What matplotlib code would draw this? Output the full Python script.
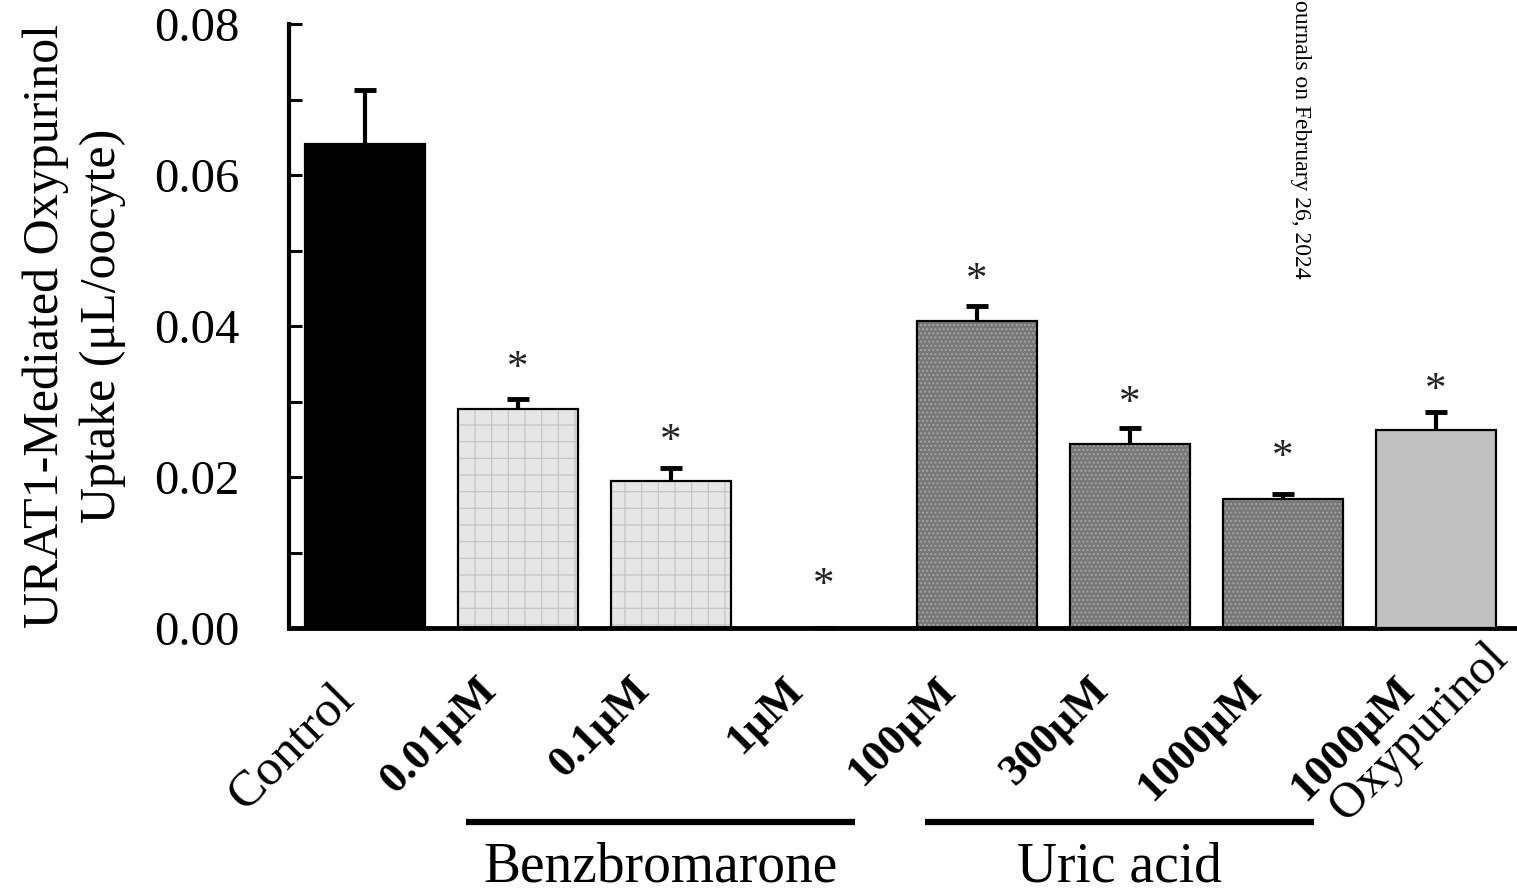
import matplotlib
matplotlib.use("Agg")
import matplotlib.pyplot as plt
import matplotlib.transforms as mtransforms
import numpy as np

plt.rcParams['font.family'] = ['Liberation Serif', 'DejaVu Serif']
plt.rcParams['hatch.linewidth'] = 0.9

# ---------------- data ----------------
tick_labels = ["Control", "0.01\u03bcM", "0.1\u03bcM", "1\u03bcM",
               "100\u03bcM", "300\u03bcM", "1000\u03bcM", "1000\u03bcM"]
uptake = [0.0641, 0.0290, 0.0195, 0.0, 0.0407, 0.0244, 0.0171, 0.0262]
sem = [0.0072, 0.0013, 0.0017, 0.0, 0.0020, 0.0021, 0.0006, 0.0024]
significant = [False, True, True, True, True, True, True, True]
star_height = [None, 0.0358, 0.0261, 0.0070, 0.0474, 0.0311, 0.0240, 0.0328]
groups = ["Benzbromarone", "Uric acid"]
group_members = [(1, 3), (4, 6)]
oxy_label = "Oxypurinol"
ylabel = "URAT1-Mediated Oxypurinol\nUptake (\u03bcL/oocyte)"
watermark = "ournals on February 26, 2024"

# ---------------- styles ----------------
face = ["#000000", "#e6e6e6", "#e6e6e6", "#e6e6e6",
        "#787878", "#787878", "#787878", "#c0c0c0"]
hatch = [None, "+", "+", "+", "....", "....", "....", None]
hatch_col = [None, "#c6c6c6", "#c6c6c6", "#c6c6c6",
             "#a6a6a6", "#a6a6a6", "#a6a6a6", None]

fig = plt.figure(figsize=(15.17, 8.91), dpi=100)
ax = fig.add_axes([289 / 1517, 263 / 891, 1 - 289 / 1517, 604 / 891])

x = np.arange(len(uptake))
width = 0.78
for i in range(len(uptake)):
    if hatch[i]:
        ax.bar(x[i], uptake[i], width, color=face[i], edgecolor=hatch_col[i],
               hatch=hatch[i], linewidth=0, zorder=2)
        ax.bar(x[i], uptake[i], width, fill=False, edgecolor="black",
               linewidth=1.6, zorder=3)
    else:
        ax.bar(x[i], uptake[i], width, color=face[i], edgecolor="black",
               linewidth=1.6, zorder=3)

err = np.array(sem)
_, caps, _ = ax.errorbar(x, uptake, yerr=[np.zeros_like(err), err], fmt="none",
                         ecolor="black", elinewidth=3, capsize=8,
                         capthick=3.5, zorder=4)
caps[0].set_visible(False)  # only the upper cap, as in the figure

for i in range(len(uptake)):
    if significant[i]:
        ax.annotate("*", xy=(x[i], star_height[i]), xytext=(0, -15),
                    textcoords="offset points", ha="center", va="baseline",
                    fontsize=31, color="#222222")

ax.set_xlim(-0.497, 7.53)
ax.set_ylim(0, 0.08)
ax.set_yticks([0.0, 0.02, 0.04, 0.06, 0.08])
ax.set_yticklabels(["0.00", "0.02", "0.04", "0.06", "0.08"])
ax.set_yticks(np.arange(0.01, 0.08, 0.02), minor=True)
ax.tick_params(axis="y", which="both", direction="in", length=9, width=2.2,
               labelsize=35, pad=36)
ax.set_xticks(x)
ax.set_xticklabels([])
ax.tick_params(axis="x", length=0)

for s in ["top", "right"]:
    ax.spines[s].set_visible(False)
ax.spines["left"].set_linewidth(3)
ax.spines["bottom"].set_linewidth(3.5)

ax.set_ylabel(ylabel, fontsize=36, linespacing=1.28, va="center")
ax.yaxis.set_label_coords(-0.175, 0.5)

blend = mtransforms.blended_transform_factory(ax.transData, ax.transAxes)

def shifted(dx_pt, dy_pt):
    return blend + mtransforms.ScaledTranslation(dx_pt / 72, dy_pt / 72,
                                                 fig.dpi_scale_trans)

for i, lab in enumerate(tick_labels):
    if i == 0:
        ax.text(x[i], 0, lab, transform=shifted(-12, -46), rotation=45,
                rotation_mode="anchor", ha="right", va="center",
                fontsize=37, clip_on=False)
    else:
        ax.text(x[i], 0, lab, transform=shifted(-20, -40), rotation=45,
                rotation_mode="anchor", ha="right", va="center",
                fontsize=32, fontweight="bold", clip_on=False)

ax.text(6.89, -0.172, oxy_label, transform=blend, rotation=45,
        rotation_mode="anchor", ha="center", va="center", fontsize=36,
        clip_on=False)

for name, (a, b) in zip(groups, group_members):
    x0, x1 = a - 0.34, b + 0.2
    ax.plot([x0, x1], [-0.321, -0.321], transform=blend, color="black",
            linewidth=4.5, solid_capstyle="butt", clip_on=False)
    ax.text((x0 + x1) / 2, -0.419, name, transform=blend, ha="center",
            va="baseline", fontsize=40, clip_on=False)

fig.text(1300 / 1517, 1.0, watermark, rotation=270, ha="center", va="top",
         fontsize=17)

fig.savefig("out.png", dpi=100)
